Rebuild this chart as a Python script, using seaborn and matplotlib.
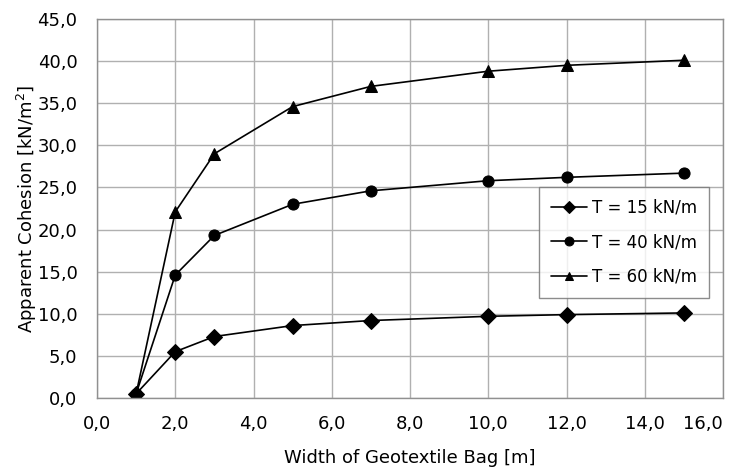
import pandas as pd
import seaborn as sns
import matplotlib.pyplot as plt
from matplotlib.ticker import FuncFormatter, MultipleLocator

width = [1, 2, 3, 5, 7, 10, 12, 15]
t15 = [0.5, 5.5, 7.3, 8.6, 9.2, 9.7, 9.9, 10.1]
t40 = [0.5, 14.6, 19.3, 23.0, 24.6, 25.8, 26.2, 26.7]
t60 = [0.5, 22.1, 29.0, 34.6, 37.0, 38.8, 39.5, 40.1]
labels = ["T = 15 kN/m", "T = 40 kN/m", "T = 60 kN/m"]
xticks = [0, 2, 4, 6, 8, 10, 12, 14, 16]

df = pd.concat([
    pd.DataFrame({"Width": width, "Cohesion": vals, "Series": lab})
    for vals, lab in zip([t15, t40, t60], labels)
])

sns.set_style("white")
plt.rcParams["font.family"] = ["DejaVu Sans"]
plt.rcParams["text.color"] = "black"
plt.rcParams["axes.labelcolor"] = "black"
plt.rcParams["xtick.color"] = "black"
plt.rcParams["ytick.color"] = "black"

fig = plt.figure(figsize=(7.37, 4.67), dpi=100)
ax = fig.add_axes([97 / 737, 69 / 467, 626 / 737, 379 / 467])

sns.lineplot(data=df, x="Width", y="Cohesion", style="Series",
             markers={labels[0]: "D", labels[1]: "o", labels[2]: "^"},
             dashes=False, color="black", linewidth=1.2, markersize=8,
             markeredgecolor="black", ax=ax)

ax.set_xlim(0, 16)
ax.set_ylim(0, 45)
ax.set_xticks(xticks, [f"{v:.1f}".replace(".", ",") for v in xticks])
ax.yaxis.set_major_locator(MultipleLocator(5))
ax.yaxis.set_major_formatter(FuncFormatter(lambda v, p: f"{v:.1f}".replace(".", ",")))
ax.grid(True, color="#b0b0b0", linewidth=1)
ax.set_axisbelow(True)
for s in ax.spines.values():
    s.set_color("#909090")
    s.set_linewidth(1)
ax.tick_params(length=0, labelsize=13)
ax.tick_params(axis="x", pad=12)
ax.tick_params(axis="y", pad=14)
ax.set_xlabel("Width of Geotextile Bag [m]", fontsize=13, labelpad=12)
ax.set_ylabel("Apparent Cohesion [kN/m$^2$]", fontsize=13, labelpad=-1)

ax.xaxis.get_major_ticks()[-1].label1.set_horizontalalignment("right")

leg = ax.legend(loc="upper right", bbox_to_anchor=(0.978, 0.557),
                borderaxespad=0, fontsize=12, frameon=True, fancybox=False,
                edgecolor="#707070", handlelength=2.2, labelspacing=1.0,
                borderpad=0.7, markerscale=0.8, handletextpad=0.3)
leg.get_frame().set_linewidth(1)

fig.savefig("out.png", dpi=100)
